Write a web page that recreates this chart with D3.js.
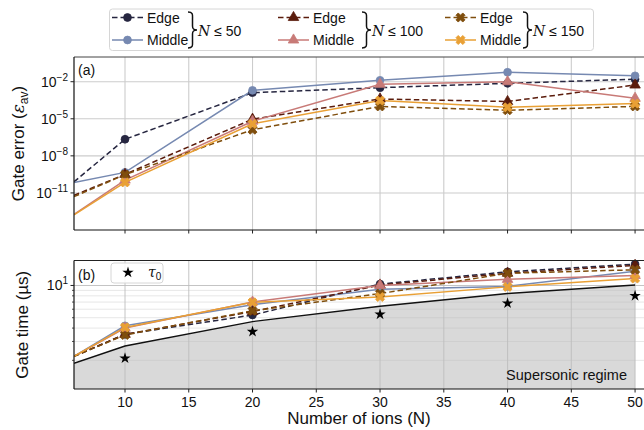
<!DOCTYPE html>
<html><head><meta charset="utf-8">
<script src="https://cdn.jsdelivr.net/npm/d3@7"></script>
<style>body{margin:0;background:#fff}svg{display:block;font-family:"Liberation Sans",Arial,sans-serif}</style>
</head><body><svg id="c" width="644" height="430"></svg>
<script>
// ---------------- data ----------------
const ions = [6, 10, 20, 30, 40, 50];
const errEdge50    = [7.9e-11, 2.2e-7, 1.3e-3, 3.3e-3, 7.4e-3, 1.6e-2];
const errMiddle50  = [7.1e-11, 4.6e-10, 2.0e-3, 1.3e-2, 5.8e-2, 3.0e-2];
const errEdge100   = [6.3e-12, 3.2e-10, 9.3e-6, 4.0e-4, 2.5e-4, 5.4e-3];
const errMiddle100 = [1.8e-13, 1.1e-10, 6.3e-6, 6.2e-3, 1.0e-2, 4.6e-4];
const errEdge150   = [5.0e-12, 3.0e-10, 1.3e-6, 1.0e-4, 4.9e-5, 1.0e-4];
const errMiddle150 = [1.7e-13, 7.1e-11, 3.9e-6, 3.0e-4, 8.5e-5, 1.7e-4];

const timeEdge50    = [2.18, 3.5, 5.3, 10.3, 13.4, 15.8];
const timeMiddle50  = [2.18, 4.2, 6.6, 9.2, 9.8, 13.6];
const timeEdge100   = [2.18, 3.5, 5.7, 10.1, 13.0, 15.4];
const timeMiddle100 = [2.18, 4.0, 7.0, 10.0, 11.4, 12.4];
const timeEdge150   = [2.18, 3.45, 5.8, 8.4, 13.0, 14.0];
const timeMiddle150 = [2.18, 4.06, 6.96, 7.8, 9.7, 11.6];
const supersonicBound = [1.88, 2.72, 4.6, 6.4, 8.4, 10.1];
const tauIons = [10, 20, 30, 40, 50];
const tau0 = [2.09, 3.7, 5.38, 6.82, 8.0];

const xTicks = [10, 15, 20, 25, 30, 35, 40, 45, 50];
const errTickExps = [-2, -5, -8, -11];
const groupLabels = ["50", "100", "150"];

const series = [
  {name:"Edge",   grp:0, err:errEdge50,    time:timeEdge50,    color:"#262640", dash:true,  sym:"circle"},
  {name:"Middle", grp:0, err:errMiddle50,  time:timeMiddle50,  color:"#7689b1", dash:false, sym:"circle"},
  {name:"Edge",   grp:1, err:errEdge100,   time:timeEdge100,   color:"#5b1c0c", dash:true,  sym:"triangle"},
  {name:"Middle", grp:1, err:errMiddle100, time:timeMiddle100, color:"#c87a77", dash:false, sym:"triangle"},
  {name:"Edge",   grp:2, err:errEdge150,   time:timeEdge150,   color:"#7f4e0d", dash:true,  sym:"x"},
  {name:"Middle", grp:2, err:errMiddle150, time:timeMiddle150, color:"#e9a035", dash:false, sym:"x"},
];

// ---------------- layout ----------------
const svg = d3.select("#c");
const L = 74, R = 644;
const topA = 57, botA = 230, topB = 260.5, botB = 389;
const x = d3.scaleLinear().domain([6, 50.7]).range([L, R]);
const yA = d3.scaleLog().domain([1e-14, 1]).range([botA, topA]);
const yB = d3.scaleLog().domain([1.08, 17.1]).range([botB, topB]);

const defs = svg.append("defs");
defs.append("clipPath").attr("id","clipA").append("rect").attr("x",L).attr("y",topA).attr("width",R-L).attr("height",botA-topA);
defs.append("clipPath").attr("id","clipB").append("rect").attr("x",L).attr("y",topB).attr("width",R-L).attr("height",botB-topB);

function symPath(sym){
  if(sym==="circle") return d3.symbol(d3.symbolCircle, 48)();
  if(sym==="triangle") return d3.symbol(d3.symbolTriangle, 48)();
  return d3.symbol(d3.symbolCross, 52)();
}
function drawMarker(g, sym, cx, cy, color){
  g.append("path").attr("d", symPath(sym))
    .attr("transform", `translate(${cx},${cy})` + (sym==="x" ? " rotate(45)" : ""))
    .attr("fill", color).attr("stroke", color).attr("stroke-width", 0.8);
}

// ---------------- panel (a) ----------------
const gA = svg.append("g");
gA.append("g").selectAll("line").data(xTicks).join("line")
  .attr("x1", d=>x(d)).attr("x2", d=>x(d)).attr("y1", topA).attr("y2", botA)
  .attr("stroke", "#cccccc").attr("stroke-width", 1.1);
gA.append("g").selectAll("line").data(errTickExps).join("line")
  .attr("x1", L).attr("x2", R).attr("y1", d=>yA(Math.pow(10,d))).attr("y2", d=>yA(Math.pow(10,d)))
  .attr("stroke", "#cccccc").attr("stroke-width", 1.1);

const pA = gA.append("g").attr("clip-path","url(#clipA)");
series.forEach(s=>{
  const line = d3.line().x((d,i)=>x(ions[i])).y(d=>yA(d));
  pA.append("path").attr("d", line(s.err)).attr("fill","none").attr("stroke", s.color)
    .attr("stroke-width", 1.5).attr("stroke-dasharray", s.dash ? "5.5,3" : null);
});
const mA = gA.append("g");
series.forEach(s=>{
  s.err.forEach((v,i)=>{ if(i>0) drawMarker(mA, s.sym, x(ions[i]), yA(v), s.color); });
});

// spines & ticks (a)
gA.append("line").attr("x1",L).attr("x2",R).attr("y1",topA).attr("y2",topA).attr("stroke","#444").attr("stroke-width",1);
gA.append("line").attr("x1",L).attr("x2",R).attr("y1",botA).attr("y2",botA).attr("stroke","#111").attr("stroke-width",1.2);
gA.append("line").attr("x1",L).attr("x2",L).attr("y1",topA).attr("y2",botA).attr("stroke","#111").attr("stroke-width",1.2);
gA.append("g").selectAll("line").data(xTicks).join("line")
  .attr("x1", d=>x(d)).attr("x2", d=>x(d)).attr("y1", botA).attr("y2", botA+3.5).attr("stroke","#222");
errTickExps.forEach(e=>{
  const yy = yA(Math.pow(10,e));
  gA.append("line").attr("x1",L-3.5).attr("x2",L).attr("y1",yy).attr("y2",yy).attr("stroke","#222");
  const t = gA.append("text").attr("x", L-6).attr("y", yy+5).attr("text-anchor","end").attr("font-size",14).attr("fill","#111");
  t.append("tspan").text("10");
  t.append("tspan").attr("dy",-6).attr("font-size",10).text("\u2212"+Math.abs(e));
});
gA.append("text").attr("x",78).attr("y",75).attr("font-size",14).attr("fill","#111").text("(a)");

// y label (a)
const ylA = svg.append("text").attr("transform",`translate(24,${(topA+botA)/2}) rotate(-90)`)
  .attr("text-anchor","middle").attr("font-size",17).attr("fill","#111");
ylA.append("tspan").text("Gate error (");
ylA.append("tspan").attr("font-style","italic").attr("font-family","'DejaVu Serif',serif").text("\u03b5");
ylA.append("tspan").attr("font-size",12).attr("dy",4).text("av");
ylA.append("tspan").attr("dy",-4).text(")");

// ---------------- panel (b) ----------------
const gB = svg.append("g");
const pB = gB.append("g").attr("clip-path","url(#clipB)");
const area = d3.area().x((d,i)=>x(ions[i])).y0(botB).y1(d=>yB(d));
pB.append("path").attr("d", area(supersonicBound)).attr("fill","#d9d9d9");

const minorVals = [2,3,4,5,6,7,8,9];
pB.append("g").selectAll("line").data(minorVals).join("line")
  .attr("x1",L).attr("x2",R).attr("y1",d=>yB(d)).attr("y2",d=>yB(d))
  .attr("stroke","#bbbbbb").attr("stroke-opacity",0.4).attr("stroke-width",0.9);
pB.append("line").attr("x1",L).attr("x2",R).attr("y1",yB(10)).attr("y2",yB(10)).attr("stroke","#c4c4c4").attr("stroke-width",1.1);
pB.append("g").selectAll("line").data(xTicks).join("line")
  .attr("x1", d=>x(d)).attr("x2", d=>x(d)).attr("y1", topB).attr("y2", botB)
  .attr("stroke", "#bdbdbd").attr("stroke-opacity",0.8).attr("stroke-width", 1.1);

pB.append("path").attr("d", d3.line().x((d,i)=>x(ions[i])).y(d=>yB(d))(supersonicBound))
  .attr("fill","none").attr("stroke","#111").attr("stroke-width",1.4);

series.forEach(s=>{
  const line = d3.line().x((d,i)=>x(ions[i])).y(d=>yB(d));
  pB.append("path").attr("d", line(s.time)).attr("fill","none").attr("stroke", s.color)
    .attr("stroke-width", 1.5).attr("stroke-dasharray", s.dash ? "5.5,3" : null);
});
const mB = gB.append("g");
series.forEach(s=>{
  s.time.forEach((v,i)=>{ if(i>0) drawMarker(mB, s.sym, x(ions[i]), yB(v), s.color); });
});
const star = d3.symbol(d3.symbolStar, 40)();
mB.selectAll("path.star").data(tau0).join("path").attr("class","star")
  .attr("d", star).attr("transform",(d,i)=>`translate(${x(tauIons[i])},${yB(d)})`).attr("fill","#000");

gB.append("text").attr("x",627).attr("y",380).attr("text-anchor","end").attr("font-size",14.5).attr("fill","#111").text("Supersonic regime");

// spines & ticks (b)
gB.append("line").attr("x1",L).attr("x2",R).attr("y1",topB).attr("y2",topB).attr("stroke","#222").attr("stroke-width",1.1);
gB.append("line").attr("x1",L).attr("x2",R).attr("y1",botB).attr("y2",botB).attr("stroke","#111").attr("stroke-width",1.2);
gB.append("line").attr("x1",L).attr("x2",L).attr("y1",topB).attr("y2",botB).attr("stroke","#111").attr("stroke-width",1.2);
xTicks.forEach(t=>{
  gB.append("line").attr("x1",x(t)).attr("x2",x(t)).attr("y1",botB).attr("y2",botB+3.5).attr("stroke","#222");
  gB.append("text").attr("x",x(t)).attr("y",407).attr("text-anchor","middle").attr("font-size",14).attr("fill","#111").text(t);
});
minorVals.forEach(v=>{
  gB.append("line").attr("x1",L-2).attr("x2",L).attr("y1",yB(v)).attr("y2",yB(v)).attr("stroke","#222").attr("stroke-width",0.8);
});
gB.append("line").attr("x1",L-3.5).attr("x2",L).attr("y1",yB(10)).attr("y2",yB(10)).attr("stroke","#222");
const t10 = gB.append("text").attr("x",L-6).attr("y",yB(10)+5).attr("text-anchor","end").attr("font-size",14).attr("fill","#111");
t10.append("tspan").text("10");
t10.append("tspan").attr("dy",-6).attr("font-size",10).text("1");
gB.append("text").attr("x",78).attr("y",280).attr("font-size",14).attr("fill","#111").text("(b)");

// legend (b)
gB.append("rect").attr("x",111).attr("y",263).attr("width",52).attr("height",20).attr("rx",3)
  .attr("fill","#fff").attr("fill-opacity",0.85).attr("stroke","#d6d6d6");
gB.append("path").attr("d", star).attr("transform","translate(128,272.5)").attr("fill","#000");
const tl = gB.append("text").attr("x",148).attr("y",277).attr("font-size",14).attr("fill","#111");
tl.append("tspan").attr("font-style","italic").attr("font-family","'DejaVu Serif',serif").text("\u03c4");
tl.append("tspan").attr("font-size",10).attr("dy",3).text("0");

svg.append("text").attr("transform",`translate(28,${(topB+botB)/2}) rotate(-90)`)
  .attr("text-anchor","middle").attr("font-size",17).attr("fill","#111").text("Gate time (\u00b5s)");
svg.append("text").attr("x",(L+R)/2).attr("y",424).attr("text-anchor","middle").attr("font-size",17).attr("fill","#111").text("Number of ions (N)");

// ---------------- top legend ----------------
const lg = svg.append("g");
lg.append("rect").attr("x",109.5).attr("y",9).attr("width",484).attr("height",41.5).attr("rx",3)
  .attr("fill","#fff").attr("stroke","#d6d6d6");
const gx = [112, 278, 445];
const braceX = [188, 362, 523];
function brace(x0, y0, y1, w){
  const ym = (y0+y1)/2, q = w/2;
  return `M${x0},${y0} C${x0+q+1},${y0} ${x0+q},${y0+3} ${x0+q},${y0+7} L${x0+q},${ym-4} C${x0+q},${ym-1} ${x0+q+1},${ym} ${x0+w},${ym}`+
         ` C${x0+q+1},${ym} ${x0+q},${ym+1} ${x0+q},${ym+4} L${x0+q},${y1-7} C${x0+q},${y1-3} ${x0+q+1},${y1} ${x0},${y1}`;
}
series.forEach(s=>{
  const row = s.name==="Edge" ? 17.5 : 40;
  const x0 = gx[s.grp];
  lg.append("line").attr("x1",x0).attr("x2",x0+31).attr("y1",row).attr("y2",row)
    .attr("stroke",s.color).attr("stroke-width",1.5).attr("stroke-dasharray", s.dash ? "5.5,3" : null);
  drawMarker(lg, s.sym, x0+15.5, row, s.color);
  lg.append("text").attr("x",x0+35).attr("y",row+5).attr("font-size",14).attr("fill","#111").text(s.name);
});
groupLabels.forEach((g,i)=>{
  lg.append("path").attr("d", brace(braceX[i], 12, 48, 9)).attr("fill","none").attr("stroke","#111").attr("stroke-width",1.5);
  const t = lg.append("text").attr("x",braceX[i]+10).attr("y",35.5).attr("font-size",14).attr("fill","#111");
  t.append("tspan").attr("font-style","italic").attr("font-family","'DejaVu Serif',serif").text("N");
  t.append("tspan").text(" \u2264 "+g);
});
</script></body></html>
